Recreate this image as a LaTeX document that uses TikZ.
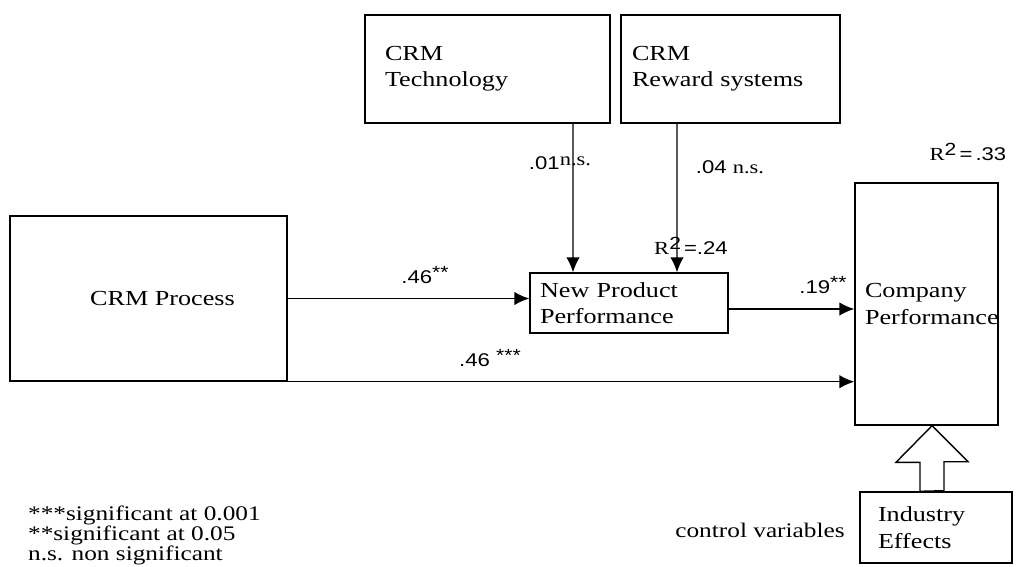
\documentclass[tikz,border=0pt]{standalone}
\usepackage{fontspec}
\setmainfont{Liberation Serif}[FakeStretch=1.22]
\setsansfont{Liberation Sans}[FakeStretch=1.2]
\usepackage{tikz}
\usetikzlibrary{arrows.meta, positioning, calc}
\tikzstyle{box} = [draw=black, line width=0.8pt, inner ysep=2pt, align=left, font=\fontsize{12.2}{15}\selectfont]
\tikzstyle{lbl} = [inner sep=1pt, font=\sffamily\fontsize{10.5}{12}\selectfont]
\tikzstyle{note} = [inner sep=1pt, align=left, font=\fontsize{11.8}{11.4}\selectfont]
\tikzstyle{arrow} = [line width=0.8pt, -{Latex[length=3mm,width=2.7mm]}]
\newcommand{\stars}[1]{\raisebox{0.55ex}{\fontsize{10}{10}\selectfont #1}}

\begin{document}
\begin{tikzpicture}[>=Stealth]
\useasboundingbox (0,0) rectangle (20.42,-11.32);

% boxes
\node[box, minimum width=4.9cm, minimum height=2.16cm, text width=4.1cm, inner xsep=0.4cm] (technology) at (9.75,-1.38) {CRM\\Technology};
\node[box, minimum width=4.38cm, minimum height=2.16cm, text width=3.94cm, inner xsep=0.22cm] (reward) at (14.61,-1.38) {CRM\\Reward systems};
\node[box, minimum width=5.54cm, minimum height=3.3cm, align=center] (process) at (2.97,-5.97) {\hspace*{0.56cm}CRM Process};
\node[box, minimum width=3.96cm, minimum height=1.2cm, text width=3.56cm, inner xsep=0.2cm] (newproduct) at (12.58,-6.06) {New Product\\Performance};
\node[box, minimum width=2.86cm, minimum height=4.84cm, text width=2.46cm, inner xsep=0.2cm] (company) at (18.53,-6.08) {Company\\Performance};
\node[box, minimum width=3.04cm, minimum height=1.42cm, text width=2.32cm, inner xsep=0.36cm] (industry) at (18.72,-10.55) {Industry\\Effects};

% paths
\draw[arrow] ([xshift=1.71cm]technology.south) -- ([xshift=-1.12cm]newproduct.north);
\draw[arrow] ([xshift=-1.07cm]reward.south) -- ([xshift=0.96cm]newproduct.north);
\draw[arrow] (process.east) -- (process.east -| newproduct.west);
\draw[arrow] ([yshift=-0.12cm]newproduct.east) -- ([yshift=-0.12cm]newproduct.east -| company.west);
\draw[arrow] (process.south east) -- (process.south east -| company.west);

% control arrow
\coordinate (tip) at ([xshift=0.11cm]company.south);
\coordinate (base) at (tip |- industry.north);
\draw[line width=0.8pt, fill=white] (base) ++(-0.24,0) -- ++(0,0.58) -- ++(-0.48,0) -- (tip) -- ++(0.72,-0.72) -- ++(-0.48,0) -- ++(0,-0.58) -- cycle;

% coefficients
\node[lbl] (ltechnology) at (11.2,-3.26) {.01{\rmfamily\raisebox{0.45ex}{n.s.}}};
\node[lbl] (lreward) at (14.6,-3.34) {.04 {\rmfamily n.s.}};
\node[lbl] (rnewproduct) at (13.82,-4.92) {{\rmfamily R}\stars{2}\,=.24};
\node[lbl] (lprocess) at (8.5,-5.5) {.46\stars{**}};
\node[lbl] (lnewproduct) at (16.46,-5.7) {.19\stars{**}};
\node[lbl] (ldirect) at (9.8,-7.16) {.46 \stars{***}};
\node[lbl] (rcompany) at (19.36,-3.04) {{\rmfamily R}\stars{2}\,=\,.33};

% notes
\node[note, anchor=west] (legend) at (0.52,-10.7) {***significant at 0.001\\**significant at 0.05\\n.s. non significant};
\node[note] (control) at (15.2,-10.6) {control variables};
\end{tikzpicture}
\end{document}
